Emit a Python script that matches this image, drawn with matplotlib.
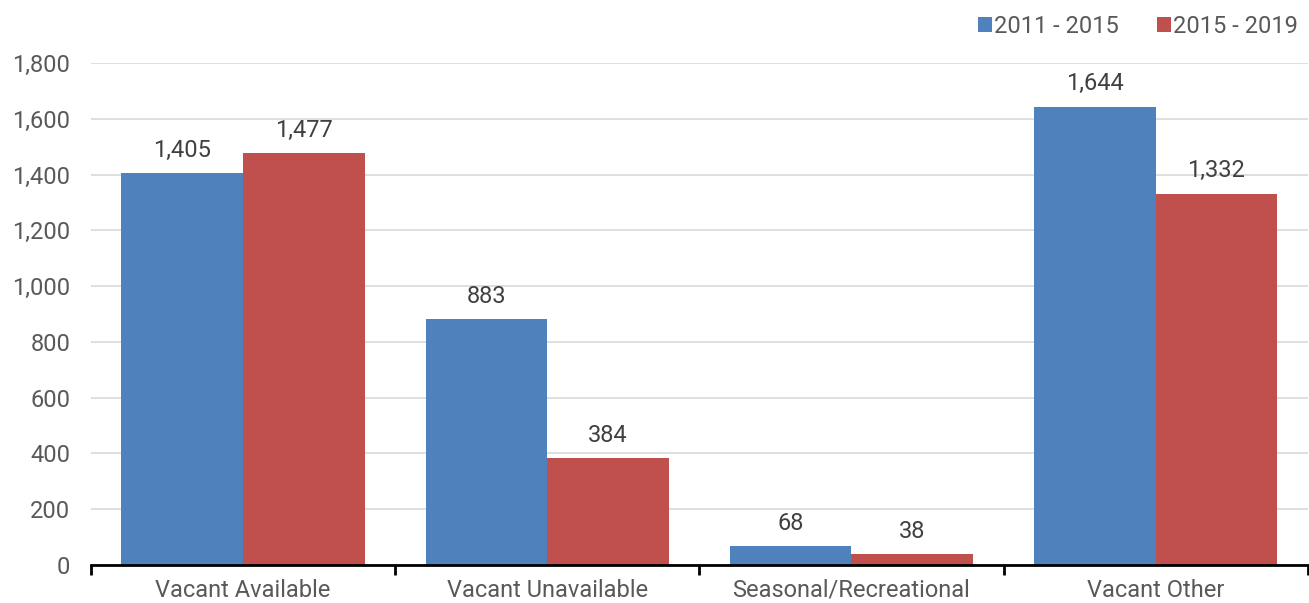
import matplotlib
matplotlib.use("Agg")
import matplotlib.pyplot as plt
import numpy as np

categories = ["Vacant Available", "Vacant Unavailable", "Seasonal/Recreational", "Vacant Other"]
series_names = ["2011 - 2015", "2015 - 2019"]
vals_2011_2015 = [1405, 883, 68, 1644]
vals_2015_2019 = [1477, 384, 38, 1332]
colors = ["#4F81BD", "#C0504D"]
yticks = [0, 200, 400, 600, 800, 1000, 1200, 1400, 1600, 1800]

plt.rcParams['font.family'] = ['Roboto', 'DejaVu Sans']
txt = "#595959"
lbl = "#404040"
fs = 17

fig = plt.figure(figsize=(13.09, 6.03), dpi=100)
ax = fig.add_axes([0.0695, 0.063, 0.9295, 0.8325])

x = np.arange(len(categories))
w = 0.4
for i, (vals, c, name) in enumerate(zip([vals_2011_2015, vals_2015_2019], colors, series_names)):
    pos = x + (i - 0.5) * w
    bars = ax.bar(pos, vals, width=w, color=c, label=name, zorder=3)
    for p, v in zip(pos, vals):
        ax.text(p, v + 40, f"{v:,}", ha="center", va="bottom", fontsize=fs, color=lbl)

ax.set_xlim(-0.5, 3.5)
ax.set_ylim(0, 1800)
ax.set_yticks(yticks)
ax.set_yticklabels([f"{t:,}" for t in yticks], fontsize=fs, color=txt)
ax.yaxis.grid(True, color="#D9D9D9", linewidth=1.2, zorder=0)
ax.tick_params(axis="y", length=0, pad=15)

ax.set_xticks(x)
ax.set_xticklabels(categories, fontsize=fs, color=txt)
ax.tick_params(axis="x", which="major", length=0, pad=10)
ax.set_xticks(np.arange(-0.5, 4.0, 1.0), minor=True)
ax.tick_params(axis="x", which="minor", length=7, width=2, color="black", direction="out")

for s in ["top", "right", "left"]:
    ax.spines[s].set_visible(False)
ax.spines["bottom"].set_linewidth(2)
ax.spines["bottom"].set_color("black")
ax.spines["bottom"].set_zorder(4)

leg = ax.legend(loc="upper right", bbox_to_anchor=(1.0, 1.115), ncol=2, frameon=False,
                fontsize=fs, handlelength=0.6, handleheight=0.6, handletextpad=0.1,
                columnspacing=1.6, labelcolor=txt, borderaxespad=0)

fig.savefig("out.png", dpi=100)
